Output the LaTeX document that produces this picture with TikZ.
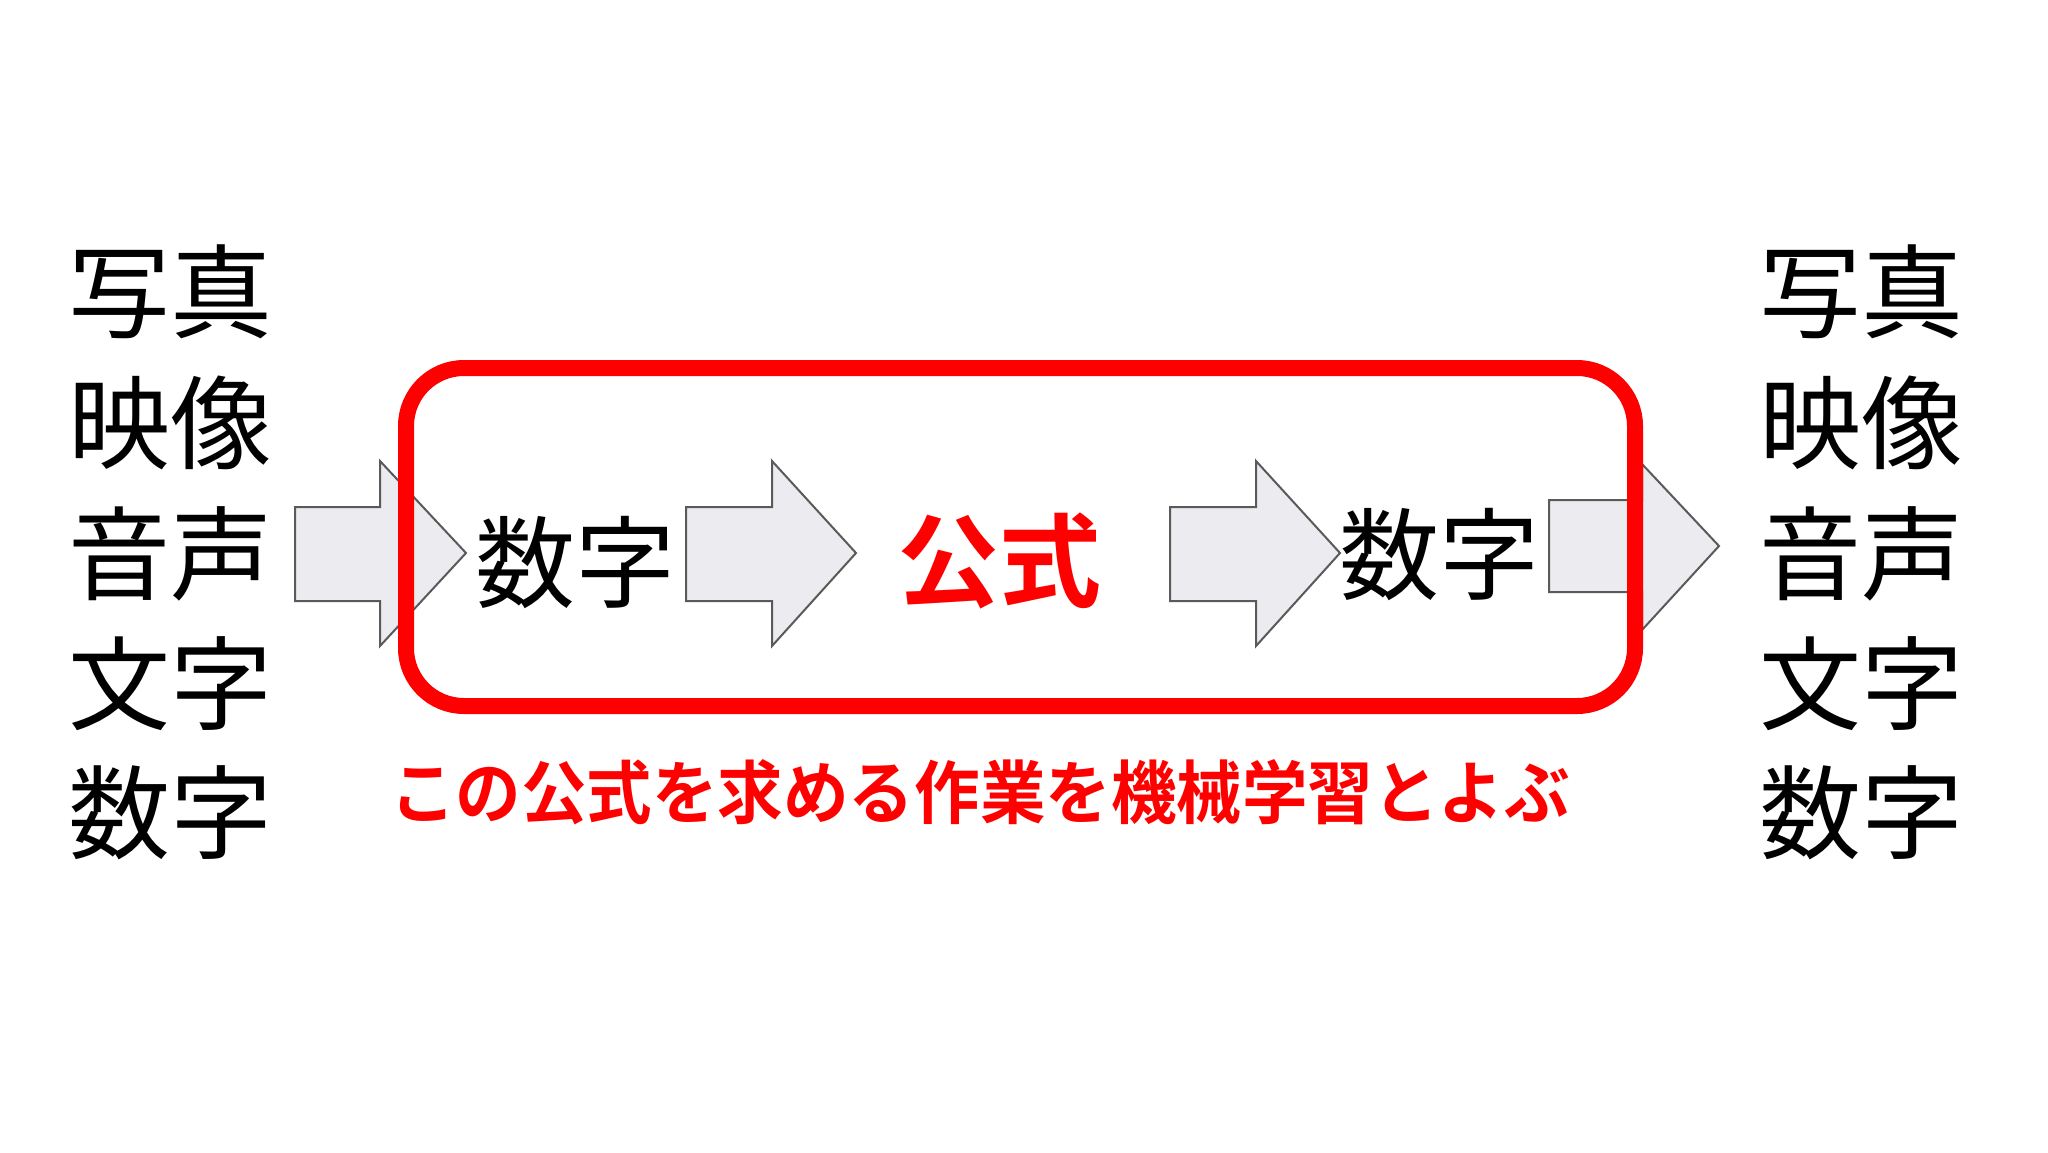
\documentclass[tikz,border=0pt]{standalone}
\usepackage{fontspec}
\setmainfont{Noto Sans CJK JP}
\newfontfamily\jpbold{Noto Sans CJK JP Bold}
\begin{document}
\begin{tikzpicture}[x=1pt,y=-1pt,
  bigtext/.style={anchor=base,inner sep=0pt,font=\fontsize{102}{102}\selectfont},
  midtext/.style={anchor=base,inner sep=0pt,font=\fontsize{100}{100}\selectfont},
  formula/.style={anchor=base,inner sep=0pt,text=red,font=\jpbold\fontsize{102}{102}\selectfont},
  caption/.style={anchor=base,inner sep=0pt,text=red,xscale=0.95,transform shape,font=\jpbold\fontsize{69}{69}\selectfont},
  blockarrow/.style={fill=arrowfill,draw=arrowline,line width=2pt,line join=miter},
  redbox/.style={draw=red,line width=16pt,rounded corners=58pt}]
\definecolor{arrowfill}{HTML}{ECEBEF}
\definecolor{arrowline}{HTML}{5A5A5A}
\useasboundingbox[fill=white] (0,0) rectangle (2048,1152);

% left column
\node[bigtext] (l1) at (170,330) {写真};
\node[bigtext] (l2) at (170,461) {映像};
\node[bigtext] (l3) at (170,592) {音声};
\node[bigtext] (l4) at (170,722) {文字};
\node[bigtext] (l5) at (170,851) {数字};
% right column
\node[bigtext] (r1) at (1861,330) {写真};
\node[bigtext] (r2) at (1861,461) {映像};
\node[bigtext] (r3) at (1861,592) {音声};
\node[bigtext] (r4) at (1861,722) {文字};
\node[bigtext] (r5) at (1861,851) {数字};

% block arrows
\draw[blockarrow] (295,507) -- (380,507) -- (380,461) -- (466,553) -- (380,646) -- (380,601) -- (295,601) -- cycle;
\draw[blockarrow] (686,507) -- (772,507) -- (772,461) -- (856,553) -- (772,646) -- (772,601) -- (686,601) -- cycle;
\draw[blockarrow] (1170,507) -- (1256,507) -- (1256,461) -- (1340,553) -- (1256,646) -- (1256,601) -- (1170,601) -- cycle;
\draw[blockarrow] (1549,500) -- (1642,500) -- (1642,464) -- (1719,546) -- (1642,630) -- (1642,592) -- (1549,592) -- cycle;

% middle texts
\node[midtext] (n1) at (575,600) {数字};
\node[formula] (f) at (999,599) {公式};
\node[midtext] (n2) at (1439,592) {数字};

% red box
\draw[redbox] (406,368) rectangle (1635,706);

% caption
\node[caption] (cap) at (980,818) {この公式を求める作業を機械学習とよぶ};
\end{tikzpicture}
\end{document}
